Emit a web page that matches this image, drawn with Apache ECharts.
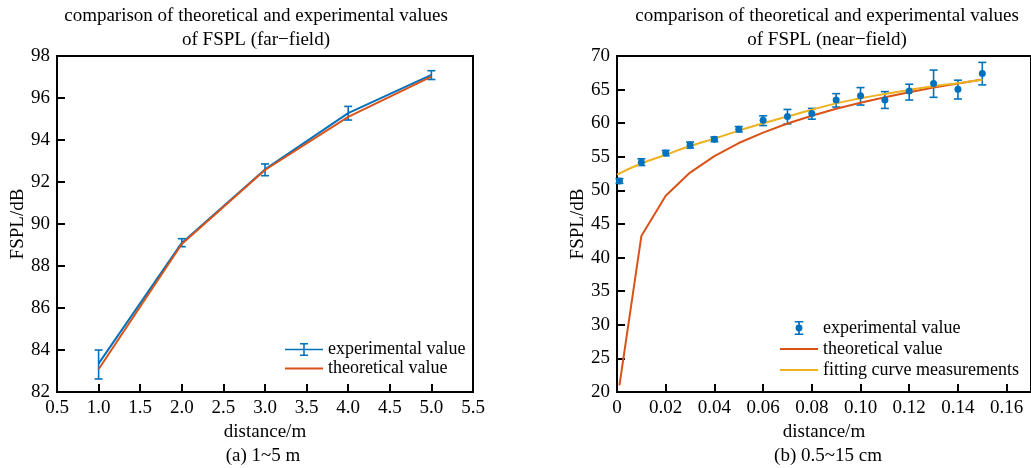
<!DOCTYPE html>
<html>
<head>
<meta charset="utf-8">
<script src="https://cdn.jsdelivr.net/npm/echarts@6/dist/echarts.min.js"></script>
<style>
  html, body { margin: 0; padding: 0; background: #fff; }
  #main { width: 1031px; height: 468px; }
</style>
</head>
<body>
<div id="main"></div>
<script>
// ---- data: (a) far-field 1~5 m ----
var farX = [1, 2, 3, 4, 5];
var farExp = [83.35, 89.1, 92.6, 95.28, 97.1];
var farExpLow = [82.62, 88.92, 92.3, 94.95, 96.88];
var farExpHigh = [84.0, 89.3, 92.86, 95.6, 97.3];
var farTheory = [83.08, 89.05, 92.57, 95.1, 97.02];

// ---- data: (b) near-field 0.5~15 cm ----
var nearX = [0.001, 0.01, 0.02, 0.03, 0.04, 0.05, 0.06, 0.07, 0.08, 0.09, 0.10, 0.11, 0.12, 0.13, 0.14, 0.15];
var nearExp = [51.4, 54.2, 55.55, 56.75, 57.6, 59.1, 60.45, 61.0, 61.45, 63.45, 64.1, 63.45, 64.8, 65.9, 65.05, 67.4];
var nearExpLow = [51.05, 53.7, 55.15, 56.3, 57.25, 58.7, 59.65, 59.9, 60.6, 62.4, 62.7, 62.2, 63.45, 63.85, 63.6, 65.7];
var nearExpHigh = [51.75, 54.7, 55.95, 57.2, 57.95, 59.5, 61.1, 62.05, 62.2, 64.4, 65.3, 64.7, 65.8, 67.9, 66.4, 69.05];
var nearTheory = [21.0, 43.2, 49.2, 52.65, 55.1, 57.05, 58.6, 59.95, 61.1, 62.15, 63.05, 63.85, 64.6, 65.3, 65.9, 66.5];
var fitX = [0, 0.01, 0.02, 0.03, 0.04, 0.05, 0.06, 0.07, 0.08, 0.09, 0.10, 0.11, 0.12, 0.13, 0.14, 0.15];
var fitY = [52.35, 54.0, 55.3, 56.6, 57.7, 58.9, 60.0, 61.0, 62.0, 62.95, 63.7, 64.35, 64.95, 65.5, 65.95, 66.45];

var BLUE = '#0072BD', RED = '#D95319', ORANGE = '#EDB120';
var FONT = '"Liberation Serif", "Times New Roman", serif';
var FS = 19;

function zip(a, b, c) {
    return a.map(function (v, i) { return c ? [v, b[i], c[i]] : [v, b[i]]; });
}

// 误差棒：竖线 + 上下两个短横
function errorBar(params, api) {
    var x = api.value(0);
    var top = api.coord([x, api.value(2)]);
    var bot = api.coord([x, api.value(1)]);
    var half = 4;
    var style = { stroke: BLUE, lineWidth: 1.6 };
    return {
        type: 'group',
        children: [
            { type: 'line', shape: { x1: top[0], y1: top[1], x2: bot[0], y2: bot[1] }, style: style },
            { type: 'line', shape: { x1: top[0] - half, y1: top[1], x2: top[0] + half, y2: top[1] }, style: style },
            { type: 'line', shape: { x1: bot[0] - half, y1: bot[1], x2: bot[0] + half, y2: bot[1] }, style: style }
        ]
    };
}

function valueAxis(idx, min, max, interval, fmt, name, gap) {
    return {
        type: 'value', gridIndex: idx, min: min, max: max, interval: interval,
        name: name, nameLocation: 'middle', nameGap: gap,
        nameTextStyle: { color: '#000', fontFamily: FONT, fontSize: FS },
        axisLine: { show: true, lineStyle: { color: '#000', width: 2 } },
        axisTick: { show: true, inside: true, length: 8, lineStyle: { color: '#000', width: 2 } },
        axisLabel: { color: '#000', fontFamily: FONT, fontSize: FS, margin: 7, formatter: fmt, showMaxLabel: fmt.hideMax ? false : null },
        splitLine: { show: false }
    };
}

var fmt1 = function (v) { return v.toFixed(1); };
var fmt2 = function (v) { return v === 0 ? '0' : v.toFixed(2); };
fmt2.hideMax = true;
var fmtInt = function (v) { return String(v); };

var errIcon = 'path://M0,5.75h38v1.5h-38z M18.2,0h1.6v13h-1.6z M15,0h8v1.5h-8z M15,11.5h8v1.5h-8z';
var dotIcon = 'path://M0,0h8v1.5h-8z M0,11.5h8v1.5h-8z M3.2,0h1.6v13h-1.6z M0.8,6.5a3.2,3.2 0 1,1 6.4,0a3.2,3.2 0 1,1 -6.4,0z';
var lineIcon = 'path://M0,0h38v2h-38z';

var option = {
    animation: false,
    backgroundColor: '#fff',
    grid: [
        { left: 57, top: 56, width: 416, height: 336, show: true, borderColor: '#000', borderWidth: 2 },
        { left: 617, top: 56, width: 416.5, height: 336, show: true, borderColor: '#000', borderWidth: 2 }
    ],
    xAxis: [
        valueAxis(0, 0.5, 5.5, 0.5, fmt1, 'distance/m', 23),
        valueAxis(1, 0, 0.17, 0.02, fmt2, 'distance/m', 23)
    ],
    yAxis: [
        valueAxis(0, 82, 98, 2, fmtInt, 'FSPL/dB', 29),
        valueAxis(1, 20, 70, 5, fmtInt, 'FSPL/dB', 29)
    ],
    legend: [
        {
            left: 280, top: 335, orient: 'vertical', itemWidth: 38, itemHeight: 14, itemGap: 0,
            textStyle: { color: '#000', fontFamily: FONT, fontSize: 18, lineHeight: 19 },
            data: [
                { name: 'experimental value', icon: errIcon, itemStyle: { color: BLUE } },
                { name: 'theoretical value', icon: lineIcon, itemStyle: { color: RED } }
            ]
        },
        {
            left: 775, top: 313, orient: 'vertical', itemWidth: 38, itemHeight: 14, itemGap: 1,
            textStyle: { color: '#000', fontFamily: FONT, fontSize: 18, lineHeight: 20 },
            data: [
                { name: 'experimental value ', icon: dotIcon, itemStyle: { color: BLUE } },
                { name: 'theoretical value ', icon: lineIcon, itemStyle: { color: RED } },
                { name: 'fitting curve measurements', icon: lineIcon, itemStyle: { color: ORANGE } }
            ]
        }
    ],
    graphic: [
        { type: 'text', x: 256, y: 4, style: { text: 'comparison of theoretical and experimental values\nof FSPL (far\u2212field)', textAlign: 'center', font: FS + 'px ' + FONT, lineHeight: 24, fill: '#000' } },
        { type: 'text', x: 827, y: 4, style: { text: 'comparison of theoretical and experimental values\nof FSPL (near\u2212field)', textAlign: 'center', font: FS + 'px ' + FONT, lineHeight: 24, fill: '#000' } },
        { type: 'text', x: 263, y: 447, style: { text: '(a) 1~5 m', textAlign: 'center', font: FS + 'px ' + FONT, fill: '#000' } },
        { type: 'text', x: 828, y: 447, style: { text: '(b) 0.5~15 cm', textAlign: 'center', font: FS + 'px ' + FONT, fill: '#000' } }
    ],
    series: [
        // (a)
        { name: 'experimental value', type: 'line', xAxisIndex: 0, yAxisIndex: 0, symbol: 'none',
          lineStyle: { color: BLUE, width: 2 }, itemStyle: { color: BLUE }, data: zip(farX, farExp) },
        { name: 'experimental value', type: 'custom', xAxisIndex: 0, yAxisIndex: 0, renderItem: errorBar,
          encode: { x: 0, y: [1, 2] }, itemStyle: { color: BLUE }, data: zip(farX, farExpLow, farExpHigh), z: 3 },
        { name: 'theoretical value', type: 'line', xAxisIndex: 0, yAxisIndex: 0, symbol: 'none',
          lineStyle: { color: RED, width: 2 }, itemStyle: { color: RED }, data: zip(farX, farTheory), z: 4 },
        // (b)
        { name: 'theoretical value ', type: 'line', xAxisIndex: 1, yAxisIndex: 1, symbol: 'none',
          lineStyle: { color: RED, width: 2 }, itemStyle: { color: RED }, data: zip(nearX, nearTheory) },
        { name: 'fitting curve measurements', type: 'line', xAxisIndex: 1, yAxisIndex: 1, symbol: 'none', smooth: true,
          lineStyle: { color: ORANGE, width: 2 }, itemStyle: { color: ORANGE }, data: zip(fitX, fitY) },
        { name: 'experimental value ', type: 'custom', xAxisIndex: 1, yAxisIndex: 1, renderItem: errorBar,
          encode: { x: 0, y: [1, 2] }, itemStyle: { color: BLUE }, data: zip(nearX, nearExpLow, nearExpHigh), z: 3 },
        { name: 'experimental value ', type: 'scatter', xAxisIndex: 1, yAxisIndex: 1, symbol: 'circle', symbolSize: 7,
          itemStyle: { color: BLUE, opacity: 1 }, data: zip(nearX, nearExp), z: 4 }
    ]
};

var chart = echarts.init(document.getElementById('main'), null, { renderer: 'canvas' });
chart.setOption(option);
</script>
</body>
</html>
